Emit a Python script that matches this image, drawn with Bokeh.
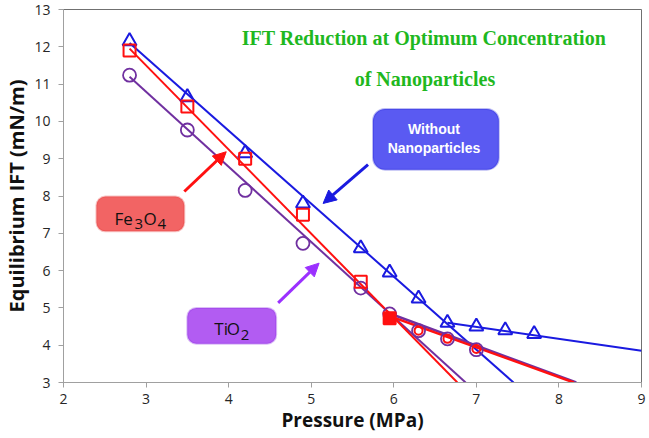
from bokeh.plotting import figure
from bokeh.models import Label, Arrow, NormalHead, BoxAnnotation, FixedTicker, Range1d
from bokeh.embed import file_html
from bokeh.resources import INLINE

# ---- data ----
x_ticks = [2, 3, 4, 5, 6, 7, 8, 9]
y_ticks = [3, 4, 5, 6, 7, 8, 9, 10, 11, 12, 13]

pressure_without = [2.8, 3.5, 4.2, 4.9, 5.6, 5.95, 6.3, 6.65, 7.0, 7.35, 7.7]
ift_without = [12.15, 10.65, 9.15, 7.8, 6.6, 5.95, 5.25, 4.6, 4.5, 4.4, 4.3]

pressure_fe = [2.8, 3.5, 4.2, 4.9, 5.6, 5.95]
ift_fe = [11.9, 10.4, 9.0, 7.5, 5.7, 4.72]
pressure_fe_low = [6.3, 6.65, 7.0]
ift_fe_low = [4.39, 4.17, 3.9]

pressure_ti = [2.8, 3.5, 4.2, 4.9, 5.6, 5.95, 6.3, 6.65, 7.0]
ift_ti = [11.24, 9.77, 8.15, 6.73, 5.53, 4.84, 4.39, 4.17, 3.88]

# trend lines (end points)
trend_without_1_x = [2.8, 7.45]
trend_without_1_y = [12.1, 3.0]
trend_without_2_x = [6.65, 9.0]
trend_without_2_y = [4.6, 3.85]
trend_fe_1_x = [2.8, 6.77]
trend_fe_1_y = [11.95, 3.0]
trend_fe_2_x = [5.95, 8.18]
trend_fe_2_y = [4.78, 3.0]
trend_ti_1_x = [2.8, 6.87]
trend_ti_1_y = [11.2, 3.0]
trend_ti_2_x = [5.95, 8.21]
trend_ti_2_y = [4.85, 3.0]

BLUE = "#1a1ae0"
RED = "#ff1010"
PURPLE = "#7030a0"


# annotation placement helpers (reference picture pixels -> axis units)
def rx(px):
    return 2 + (px - 62) / 82.7


def ry(py):
    return 13 - (py - 7) / 37.5


p = figure(width=647, height=436, output_backend="svg", toolbar_location=None,
           x_range=Range1d(2, 9), y_range=Range1d(3, 13),
           min_border_left=62, min_border_right=6, min_border_top=9, min_border_bottom=54)
p.background_fill_color = "white"
p.border_fill_color = "white"
p.outline_line_color = "#707070"
p.xgrid.visible = False
p.ygrid.visible = False

for ax in (p.xaxis, p.yaxis):
    ax.axis_line_color = "#a0a0a0"
    ax.major_tick_line_color = "#a0a0a0"
    ax.major_tick_out = 5
    ax.major_tick_in = 0
    ax.minor_tick_line_color = None
    ax.major_label_text_font = "Open Sans"
    ax.major_label_text_font_size = "14px"
    ax.major_label_text_color = "#262626"
    ax.axis_label_text_font = "Open Sans"
    ax.axis_label_text_font_style = "bold"
    ax.axis_label_text_color = "#111111"
p.xaxis.ticker = FixedTicker(ticks=x_ticks)
p.yaxis.ticker = FixedTicker(ticks=y_ticks)
p.xaxis.axis_label = "Pressure (MPa)"
p.yaxis.axis_label = "Equilibrium IFT (mN/m)"
p.xaxis.axis_label_text_font_size = "19px"
p.yaxis.axis_label_text_font_size = "20px"
p.xaxis.major_label_standoff = 6
p.xaxis.axis_label_standoff = 0
p.yaxis.major_label_standoff = 8
p.yaxis.axis_label_standoff = 1

# trend lines
p.line(trend_without_1_x, trend_without_1_y, line_color=BLUE, line_width=2)
p.line(trend_without_2_x, trend_without_2_y, line_color=BLUE, line_width=2)
p.line(trend_ti_1_x, trend_ti_1_y, line_color=PURPLE, line_width=2)
p.line(trend_ti_2_x, trend_ti_2_y, line_color=PURPLE, line_width=2.5)
p.line(trend_fe_1_x, trend_fe_1_y, line_color=RED, line_width=2)
p.line(trend_fe_2_x, trend_fe_2_y, line_color=RED, line_width=2.5)

# markers
p.scatter(pressure_without, ift_without, marker="triangle", size=14,
          line_color=BLUE, line_width=2, fill_color=None)
p.scatter(pressure_ti, ift_ti, marker="circle", size=13,
          line_color=PURPLE, line_width=1.8, fill_color=None)
p.scatter(pressure_fe[:-1], ift_fe[:-1], marker="square", size=12,
          line_color=RED, line_width=2, fill_color=None)
p.scatter(pressure_fe[-1:], ift_fe[-1:], marker="square", size=12,
          line_color=RED, line_width=2, fill_color=RED)
p.scatter(pressure_fe_low, ift_fe_low, marker="circle", size=8,
          line_color=RED, line_width=2, fill_color=None)

# title
title_kw = dict(text_font="Liberation Serif", text_font_style="bold",
                text_font_size="20px", text_color="#1fb81f",
                text_align="center", text_baseline="middle")
p.add_layout(Label(x=rx(423), y=ry(36), text="IFT Reduction at Optimum Concentration", **title_kw))
p.add_layout(Label(x=rx(424), y=ry(77), text="of Nanoparticles", **title_kw))

# callout boxes
p.add_layout(BoxAnnotation(left=rx(372), right=rx(498), top=ry(107), bottom=ry(168),
                           fill_color="#5a5af2", fill_alpha=1.0,
                           line_color="#2626d6", line_width=2, border_radius=12))
p.add_layout(BoxAnnotation(left=rx(95), right=rx(183), top=ry(195), bottom=ry(230),
                           fill_color="#f26464", fill_alpha=1.0,
                           line_color="#e43a3a", line_width=2, border_radius=9))
p.add_layout(BoxAnnotation(left=rx(186), right=rx(275), top=ry(307), bottom=ry(343),
                           fill_color="#b25cf2", fill_alpha=1.0,
                           line_color="#8a2be2", line_width=2, border_radius=9))

box_txt = dict(text_font="Liberation Sans", text_font_style="bold",
               text_font_size="14px", text_color="white",
               text_align="center", text_baseline="middle")
p.add_layout(Label(x=rx(433), y=ry(127), text="Without", **box_txt))
p.add_layout(Label(x=rx(433), y=ry(146), text="Nanoparticles", **box_txt))

chem = dict(text_font="Open Sans", text_color="#111111", text_align="left",
            text_baseline="alphabetic")
# Fe3O4
fx, fy = rx(113), ry(217)
p.add_layout(Label(x=fx, y=fy, x_offset=0, text="Fe", text_font_size="17px", **chem))
p.add_layout(Label(x=fx, y=fy, x_offset=20, y_offset=-6, text="3", text_font_size="15px", **chem))
p.add_layout(Label(x=fx, y=fy, x_offset=29, text="O", text_font_size="17px", **chem))
p.add_layout(Label(x=fx, y=fy, x_offset=43, y_offset=-6, text="4", text_font_size="15px", **chem))
# TiO2
tx, ty = rx(213), ry(328)
p.add_layout(Label(x=tx, y=ty, x_offset=0, text="Ti", text_font_size="17px", **chem))
p.add_layout(Label(x=tx, y=ty, x_offset=12.5, text="O", text_font_size="17px", **chem))
p.add_layout(Label(x=tx, y=ty, x_offset=26.5, y_offset=-6, text="2", text_font_size="15px", **chem))

# arrows
p.add_layout(Arrow(end=NormalHead(size=13, fill_color=BLUE, line_color=BLUE),
                   x_start=rx(367), y_start=ry(163), x_end=rx(322), y_end=ry(202),
                   line_color=BLUE, line_width=3))
p.add_layout(Arrow(end=NormalHead(size=13, fill_color=RED, line_color=RED),
                   x_start=rx(183), y_start=ry(190), x_end=rx(225), y_end=ry(150),
                   line_color=RED, line_width=3))
p.add_layout(Arrow(end=NormalHead(size=13, fill_color="#9b30ff", line_color="#9b30ff"),
                   x_start=rx(277), y_start=ry(302), x_end=rx(318), y_end=ry(262),
                   line_color="#9b30ff", line_width=3))

open("out.html", "w").write(file_html(p, INLINE))
